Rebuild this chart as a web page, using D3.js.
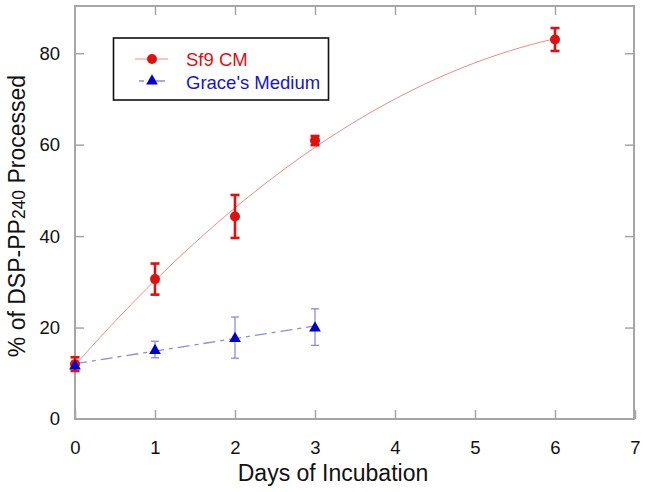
<!DOCTYPE html>
<html><head><meta charset="utf-8">
<script src="https://cdn.jsdelivr.net/npm/d3@7/dist/d3.min.js"></script>
<style>body{margin:0;background:#fff}svg{display:block;font-family:Arial,"Liberation Sans",sans-serif}</style>
</head><body><svg id="c" width="645" height="492"></svg>
<script>
// Data
const sf9Days = [0, 1, 2, 3, 6];
const sf9Values = [12.0, 30.6, 44.3, 60.9, 83.0];
const sf9Errors = [1.5, 3.4, 4.7, 1.0, 2.5];
const graceDays = [0, 1, 2, 3];
const graceValues = [11.8, 15.2, 17.8, 20.1];
const graceErrors = [0.8, 1.8, 4.5, 4.0];
const xTicks = [0, 1, 2, 3, 4, 5, 6, 7];
const yTicks = [0, 20, 40, 60, 80];
const seriesNames = ["Sf9 CM", "Grace's Medium"];

const svg = d3.select("#c");
const L = 75, R = 634, T = 6, B = 419;
const x = d3.scaleLinear().domain([0, 7]).range([L, R + 1]);
const y = d3.scaleLinear().domain([0, 90]).range([B, T + 1.5]);

const axisColor = "#a6a6a6";
svg.append("rect").attr("x", L).attr("y", T).attr("width", R - L).attr("height", B - T)
  .attr("fill", "none").attr("stroke", axisColor).attr("stroke-width", 2);

const tl = 9;
const gx = svg.append("g").attr("transform", `translate(0,${B})`)
  .call(d3.axisBottom(x).tickValues(xTicks).tickSizeInner(-tl).tickSizeOuter(0).tickPadding(22).tickFormat(d3.format("d")));
const gxt = svg.append("g").attr("transform", `translate(0,${T})`)
  .call(d3.axisTop(x).tickValues(xTicks.slice(1, -1)).tickSizeInner(-tl).tickSizeOuter(0).tickFormat(""));
const gy = svg.append("g").attr("transform", `translate(${L},0)`)
  .call(d3.axisLeft(y).tickValues(yTicks).tickSizeInner(-tl).tickSizeOuter(0).tickPadding(15).tickFormat(d3.format("d")));
const gyr = svg.append("g").attr("transform", `translate(${R},0)`)
  .call(d3.axisRight(y).tickValues(yTicks.slice(1)).tickSizeInner(-tl).tickSizeOuter(0).tickFormat(""));
[gx, gxt, gy, gyr].forEach(g => {
  g.select(".domain").remove();
  g.selectAll(".tick line").attr("stroke", axisColor).attr("stroke-width", 1.5);
  g.selectAll("text").attr("fill", "#111").attr("font-size", 18.5);
});
gy.select(".tick:first-of-type line").remove();

// Least-squares fits
function polyFit(xs, ys, deg) {
  const n = deg + 1;
  const A = Array.from({length: n}, () => new Array(n + 1).fill(0));
  for (let i = 0; i < xs.length; i++) {
    for (let r = 0; r < n; r++) {
      for (let c = 0; c < n; c++) A[r][c] += Math.pow(xs[i], r + c);
      A[r][n] += ys[i] * Math.pow(xs[i], r);
    }
  }
  for (let i = 0; i < n; i++) {
    let p = i;
    for (let k = i + 1; k < n; k++) if (Math.abs(A[k][i]) > Math.abs(A[p][i])) p = k;
    [A[i], A[p]] = [A[p], A[i]];
    for (let k = 0; k < n; k++) if (k !== i) {
      const f = A[k][i] / A[i][i];
      for (let j = i; j <= n; j++) A[k][j] -= f * A[i][j];
    }
  }
  return A.map((row, i) => row[n] / row[i]);
}
const sf9Coef = polyFit(sf9Days, sf9Values, 2);
const graceCoef = polyFit(graceDays, graceValues, 1);
const evalP = (c, t) => c.reduce((s, a, i) => s + a * Math.pow(t, i), 0);
const line = d3.line().x(d => x(d[0])).y(d => y(d[1]));

const sfCurve = d3.range(0, 6.0001, 0.05).map(t => [t, evalP(sf9Coef, t)]);
const grCurve = [0, 3].map(t => [t, evalP(graceCoef, t)]);

const redLine = "#f08a8a", redMark = "#e01010", redText = "#dd1010";
const blueLine = "#8a8ae6", blueMark = "#0000cc", blueText = "#1515cc";

svg.append("path").attr("d", line(grCurve)).attr("fill", "none")
  .attr("stroke", blueLine).attr("stroke-width", 1.3).attr("stroke-dasharray", "12,5,4,5");
svg.append("path").attr("d", line(sfCurve)).attr("fill", "none")
  .attr("stroke", redLine).attr("stroke-width", 1);

function errBars(days, vals, errs, color, w, cap) {
  const g = svg.append("g").attr("stroke", color).attr("stroke-width", w);
  days.forEach((d, i) => {
    const cx = x(d), y1 = y(vals[i] + errs[i]), y2 = y(vals[i] - errs[i]);
    g.append("line").attr("x1", cx).attr("x2", cx).attr("y1", y1).attr("y2", y2);
    g.append("line").attr("x1", cx - cap).attr("x2", cx + cap).attr("y1", y1).attr("y2", y1);
    g.append("line").attr("x1", cx - cap).attr("x2", cx + cap).attr("y1", y2).attr("y2", y2);
  });
}
errBars(graceDays, graceValues, graceErrors, blueLine, 1.3, 4);
errBars(sf9Days, sf9Values, sf9Errors, redMark, 2.6, 4.5);

const tri = d3.symbol().type(d3.symbolTriangle).size(60);
svg.append("g").selectAll("circle").data(sf9Days).join("circle")
  .attr("cx", d => x(d)).attr("cy", (d, i) => y(sf9Values[i])).attr("r", 5).attr("fill", redMark);
svg.append("g").selectAll("path").data(graceDays).join("path")
  .attr("d", tri).attr("transform", (d, i) => `translate(${x(d)},${y(graceValues[i]) + 1})`).attr("fill", blueMark);

// legend
const lg = svg.append("g");
lg.append("rect").attr("x", 113.5).attr("y", 38).attr("width", 215).attr("height", 62)
  .attr("fill", "#fff").attr("stroke", "#111").attr("stroke-width", 1.6);
lg.append("line").attr("x1", 135).attr("x2", 168).attr("y1", 59).attr("y2", 59).attr("stroke", redLine).attr("stroke-width", 1);
lg.append("circle").attr("cx", 152).attr("cy", 59).attr("r", 5).attr("fill", redMark);
lg.append("line").attr("x1", 139).attr("x2", 168).attr("y1", 81).attr("y2", 81).attr("stroke", blueLine).attr("stroke-width", 1.3).attr("stroke-dasharray", "5,5,16");
lg.append("path").attr("d", tri).attr("transform", "translate(152,81)").attr("fill", blueMark);
lg.append("text").attr("x", 186).attr("y", 65.5).attr("font-size", 18.5).attr("fill", redText).text(seriesNames[0]);
lg.append("text").attr("x", 186).attr("y", 88.5).attr("font-size", 18.5).attr("fill", blueText).text(seriesNames[1]);

// axis titles
svg.append("text").attr("x", 333).attr("y", 481).attr("text-anchor", "middle")
  .attr("font-size", 23).attr("fill", "#111").text("Days of Incubation");
const yt = svg.append("text").attr("transform", "translate(25,216) rotate(-90)").attr("text-anchor", "middle")
  .attr("font-size", 23).attr("fill", "#111");
yt.append("tspan").text("% of DSP-PP");
yt.append("tspan").attr("font-size", 17.5).text("240");
yt.append("tspan").text(" Processed");
</script></body></html>
